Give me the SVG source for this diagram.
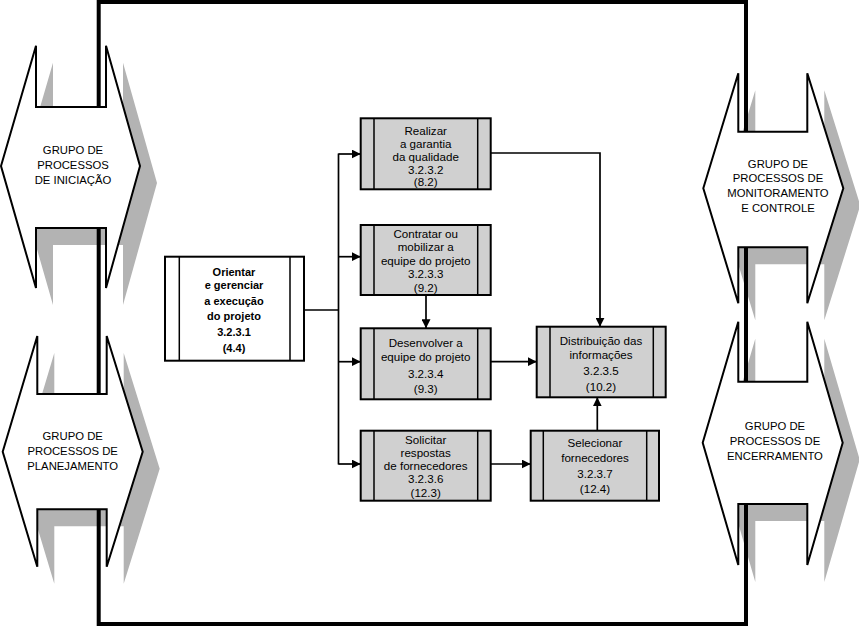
<svg xmlns="http://www.w3.org/2000/svg" width="859" height="627" viewBox="0 0 859 627">
<style>
.bg{fill:#ffffff}
.shadow{fill:#b3b3b3}
.grp{fill:#ffffff;stroke:#000;stroke-width:2;stroke-linejoin:miter}
.frame{fill:none;stroke:#000;stroke-width:4}
.box{fill:#d0d0d0;stroke:#000;stroke-width:2}
.boxw{fill:#ffffff;stroke:#000;stroke-width:2}
.bar{stroke:#000;stroke-width:1.5}
.conn{fill:none;stroke:#000;stroke-width:1.7}
.gt{font-family:"Liberation Sans",Arial,sans-serif;font-size:11.3px;fill:#000;text-anchor:middle}
.pt{font-family:"Liberation Sans",Arial,sans-serif;font-size:11.6px;fill:#000;text-anchor:middle}
.bt{font-family:"Liberation Sans",Arial,sans-serif;font-size:11px;font-weight:bold;fill:#000;text-anchor:middle}
</style>
<defs>
<marker id="arr" viewBox="0 0 10 10" refX="10" refY="5" markerWidth="9" markerHeight="9" markerUnits="userSpaceOnUse" orient="auto">
<path d="M0,0 L10,5 L0,10 z" fill="#000"/>
</marker>
<polygon id="gIni" points="1,166 36,45.7 36,107 106,107 106,45.7 140,166 106,288 106,228 36,228 36,288"/>
<polygon id="gPla" points="2.7,451.7 37.3,336 37.3,394 106.7,394 106.7,336 142.7,451.7 106.7,566.7 106.7,509.3 37.3,509.3 37.3,566.7"/>
<polygon id="gMon" points="703.3,188.3 738.3,73.3 738.3,131.7 807.3,131.7 807.3,73.3 843.3,188.3 807.3,303.3 807.3,247.3 738.3,247.3 738.3,303.3"/>
<polygon id="gEnc" points="702.7,442.7 738.3,321.7 738.3,381.7 807.3,381.7 807.3,321.7 842.7,442.7 807.3,565 807.3,504 738.3,504 738.3,565"/>
</defs>
<rect class="bg" x="0" y="0" width="859" height="627"/>

<g id="shadows">
<use href="#gIni" class="shadow" transform="translate(17,17)"/>
<use href="#gPla" class="shadow" transform="translate(17,17)"/>
<use href="#gMon" class="shadow" transform="translate(17,17)"/>
<use href="#gEnc" class="shadow" transform="translate(17,17)"/>
</g>

<rect id="frame" class="frame" x="98.7" y="2" width="647.3" height="622"/>

<g id="grupo-iniciacao">
<use href="#gIni" class="grp"/>
<text class="gt" x="73" y="153.5">GRUPO DE</text>
<text class="gt" x="73" y="168.5">PROCESSOS</text>
<text class="gt" x="73" y="184">DE INICIAÇÃO</text>
</g>
<g id="grupo-planejamento">
<use href="#gPla" class="grp"/>
<text class="gt" x="72.7" y="440">GRUPO DE</text>
<text class="gt" x="72.7" y="455">PROCESSOS DE</text>
<text class="gt" x="72.7" y="470">PLANEJAMENTO</text>
</g>
<g id="grupo-monitoramento">
<use href="#gMon" class="grp"/>
<text class="gt" x="778" y="167.5">GRUPO DE</text>
<text class="gt" x="778" y="182">PROCESSOS DE</text>
<text class="gt" x="778" y="197">MONITORAMENTO</text>
<text class="gt" x="778" y="211.5">E CONTROLE</text>
</g>
<g id="grupo-encerramento">
<use href="#gEnc" class="grp"/>
<text class="gt" x="775" y="430">GRUPO DE</text>
<text class="gt" x="775" y="445">PROCESSOS DE</text>
<text class="gt" x="775" y="460">ENCERRAMENTO</text>
</g>

<g id="connectors">
<line class="conn" x1="304" y1="310" x2="338.5" y2="310"/>
<line class="conn" x1="338.5" y1="153.5" x2="338.5" y2="464.5"/>
<line class="conn" x1="338.5" y1="154" x2="360.7" y2="154" marker-end="url(#arr)"/>
<line class="conn" x1="338.5" y1="256.7" x2="360.7" y2="256.7" marker-end="url(#arr)"/>
<line class="conn" x1="338.5" y1="361.7" x2="360.7" y2="361.7" marker-end="url(#arr)"/>
<line class="conn" x1="338.5" y1="464" x2="360.7" y2="464" marker-end="url(#arr)"/>
<path class="conn" d="M490.7,153 H600 V326.7" marker-end="url(#arr)"/>
<line class="conn" x1="426" y1="295" x2="426" y2="328.3" marker-end="url(#arr)"/>
<line class="conn" x1="490.7" y1="361.7" x2="536.7" y2="361.7" marker-end="url(#arr)"/>
<line class="conn" x1="490.7" y1="464" x2="530.7" y2="464" marker-end="url(#arr)"/>
<line class="conn" x1="597.3" y1="430.7" x2="597.3" y2="397.3" marker-end="url(#arr)"/>
</g>

<g id="p3231">
<rect class="boxw" x="165" y="256.7" width="139" height="104"/>
<line class="bar" x1="179.3" y1="256.7" x2="179.3" y2="360.7"/>
<line class="bar" x1="290" y1="256.7" x2="290" y2="360.7"/>
<text class="bt" x="234" y="275.5">Orientar</text>
<text class="bt" x="234" y="289">e gerenciar</text>
<text class="bt" x="234" y="305">a execução</text>
<text class="bt" x="234" y="320">do projeto</text>
<text class="bt" x="234" y="335.5">3.2.3.1</text>
<text class="bt" x="234" y="352">(4.4)</text>
</g>

<g id="p3232">
<rect class="box" x="360.7" y="118.3" width="130" height="71"/>
<line class="bar" x1="374" y1="118.3" x2="374" y2="189.3"/>
<line class="bar" x1="477.7" y1="118.3" x2="477.7" y2="189.3"/>
<text class="pt" x="425.7" y="134.5">Realizar</text>
<text class="pt" x="425.7" y="147.5">a garantia</text>
<text class="pt" x="425.7" y="160.5">da qualidade</text>
<text class="pt" x="425.7" y="173.5">3.2.3.2</text>
<text class="pt" x="425.7" y="186.2">(8.2)</text>
</g>

<g id="p3233">
<rect class="box" x="360.7" y="225" width="130" height="70"/>
<line class="bar" x1="374" y1="225" x2="374" y2="295"/>
<line class="bar" x1="477.7" y1="225" x2="477.7" y2="295"/>
<text class="pt" x="425.7" y="237.5">Contratar ou</text>
<text class="pt" x="425.7" y="251">mobilizar a</text>
<text class="pt" x="425.7" y="264.5">equipe do projeto</text>
<text class="pt" x="425.7" y="277.8">3.2.3.3</text>
<text class="pt" x="425.7" y="292">(9.2)</text>
</g>

<g id="p3234">
<rect class="box" x="360.7" y="328.3" width="130" height="71"/>
<line class="bar" x1="374" y1="328.3" x2="374" y2="399.3"/>
<line class="bar" x1="477.7" y1="328.3" x2="477.7" y2="399.3"/>
<text class="pt" x="425.7" y="347">Desenvolver a</text>
<text class="pt" x="425.7" y="361">equipe do projeto</text>
<text class="pt" x="425.7" y="377.5">3.2.3.4</text>
<text class="pt" x="425.7" y="393">(9.3)</text>
</g>

<g id="p3235">
<rect class="box" x="536.7" y="326.7" width="129" height="70.6"/>
<line class="bar" x1="550" y1="326.7" x2="550" y2="397.3"/>
<line class="bar" x1="653.3" y1="326.7" x2="653.3" y2="397.3"/>
<text class="pt" x="601" y="344.5">Distribuição das</text>
<text class="pt" x="601" y="359">informações</text>
<text class="pt" x="601" y="375">3.2.3.5</text>
<text class="pt" x="601" y="391">(10.2)</text>
</g>

<g id="p3236">
<rect class="box" x="360.7" y="430.7" width="130" height="70"/>
<line class="bar" x1="374" y1="430.7" x2="374" y2="500.7"/>
<line class="bar" x1="477.7" y1="430.7" x2="477.7" y2="500.7"/>
<text class="pt" x="425.7" y="443.5">Solicitar</text>
<text class="pt" x="425.7" y="456.5">respostas</text>
<text class="pt" x="425.7" y="470">de fornecedores</text>
<text class="pt" x="425.7" y="483.3">3.2.3.6</text>
<text class="pt" x="425.7" y="496.5">(12.3)</text>
</g>

<g id="p3237">
<rect class="box" x="530.7" y="430.7" width="128.3" height="70"/>
<line class="bar" x1="543.3" y1="430.7" x2="543.3" y2="500.7"/>
<line class="bar" x1="646.7" y1="430.7" x2="646.7" y2="500.7"/>
<text class="pt" x="595" y="447">Selecionar</text>
<text class="pt" x="595" y="461.5">fornecedores</text>
<text class="pt" x="595" y="477.5">3.2.3.7</text>
<text class="pt" x="595" y="493">(12.4)</text>
</g>
</svg>
